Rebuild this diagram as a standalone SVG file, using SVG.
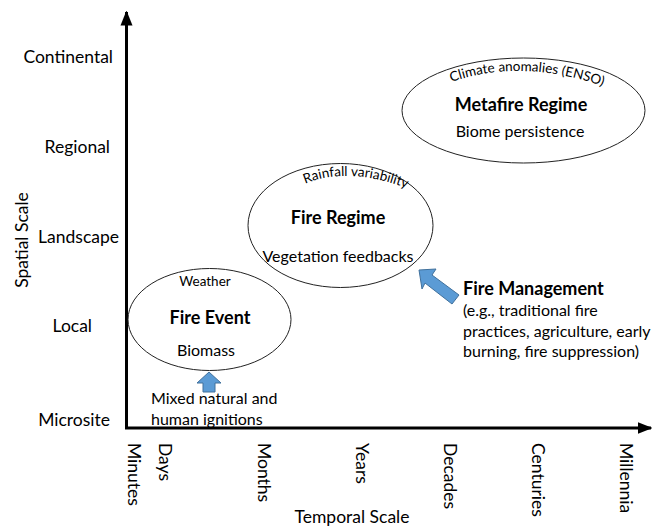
<svg xmlns="http://www.w3.org/2000/svg" width="652" height="527" viewBox="0 0 652 527">
<style>
text{font-family:Lato,"Open Sans","Liberation Sans",sans-serif;fill:#000}
.ax{font-size:17.5px}
.sm{font-size:13.5px}
.b{font-size:18px;font-weight:bold}
.md{font-size:16px}
.ell{fill:#fff;stroke:#222;stroke-width:1}
.blue{fill:#5b9bd5;stroke:#41719c;stroke-width:1}
</style>
<defs>
<marker id="ah" viewBox="0 0 10 10" refX="9" refY="5" markerWidth="5" markerHeight="5" orient="auto">
<path d="M0,1 L10,5 L0,9 Z" fill="#000"/>
</marker>
<path id="arcFR" d="M296,188 Q345,162 416,192"/>
<path id="arcMF" d="M446,84 Q520,56 608,88"/>
</defs>
<g id="axes">
<line x1="126.5" y1="428" x2="126.5" y2="12" stroke="#000" stroke-width="3" marker-end="url(#ah)"/>
<line x1="125" y1="428" x2="651" y2="428" stroke="#000" stroke-width="3" marker-end="url(#ah)"/>
</g>
<g id="y-labels">
<text x="113" y="63" text-anchor="end" class="ax">Continental</text>
<text x="110" y="153" text-anchor="end" class="ax">Regional</text>
<text x="119" y="243" text-anchor="end" class="ax">Landscape</text>
<text x="92" y="332" text-anchor="end" class="ax">Local</text>
<text x="110" y="426" text-anchor="end" class="ax">Microsite</text>
<text transform="translate(28,240) rotate(-90)" text-anchor="middle" class="ax">Spatial Scale</text>
</g>
<g id="x-labels">
<text transform="translate(128,443) rotate(90)" class="ax">Minutes</text>
<text transform="translate(159,443) rotate(90)" class="ax">Days</text>
<text transform="translate(258,443) rotate(90)" class="ax">Months</text>
<text transform="translate(356,443) rotate(90)" class="ax">Years</text>
<text transform="translate(444,443) rotate(90)" class="ax">Decades</text>
<text transform="translate(532,443) rotate(90)" class="ax">Centuries</text>
<text transform="translate(620,443) rotate(90)" class="ax">Millennia</text>
<text x="352" y="523" text-anchor="middle" class="ax">Temporal Scale</text>
</g>
<g id="fire-event">
<ellipse cx="209.5" cy="319.5" rx="81.5" ry="51" class="ell"/>
<text x="205" y="286" text-anchor="middle" class="sm">Weather</text>
<text x="210" y="324" text-anchor="middle" class="b">Fire Event</text>
<text x="206" y="356" text-anchor="middle" class="md">Biomass</text>
</g>
<g id="fire-regime">
<ellipse cx="340.5" cy="225.5" rx="92.5" ry="62" class="ell"/>
<text class="sm"><textPath href="#arcFR" startOffset="50%" text-anchor="middle">Rainfall variability</textPath></text>
<text x="338" y="224" text-anchor="middle" class="b">Fire Regime</text>
<text x="338" y="262" text-anchor="middle" class="md">Vegetation feedbacks</text>
</g>
<g id="metafire-regime">
<ellipse cx="523.5" cy="110.5" rx="121.5" ry="52.5" class="ell"/>
<text class="sm"><textPath href="#arcMF" startOffset="50%" text-anchor="middle">Climate anomalies (ENSO)</textPath></text>
<text x="521" y="111" text-anchor="middle" class="b">Metafire Regime</text>
<text x="520" y="137" text-anchor="middle" class="md">Biome persistence</text>
</g>
<g id="ignitions">
<text x="151" y="404" class="md">Mixed natural and</text>
<text x="151" y="425" class="md">human ignitions</text>
</g>
<g id="fire-management">
<text x="463" y="295" class="b">Fire Management</text>
<text x="463" y="316" class="md">(e.g., traditional fire</text>
<text x="463" y="337" class="md">practices, agriculture, early</text>
<text x="463" y="357" class="md">burning, fire suppression)</text>
</g>
<g id="connectors">
<path class="blue" d="M209,372 L221,383 L215,383 L215,392 L203,392 L203,383 L197,383 Z"/>
<path class="blue" d="M419,270 L436,269 L432,275 L459,295 L452,304 L425,283 L422,289 Z"/>
</g>
</svg>
